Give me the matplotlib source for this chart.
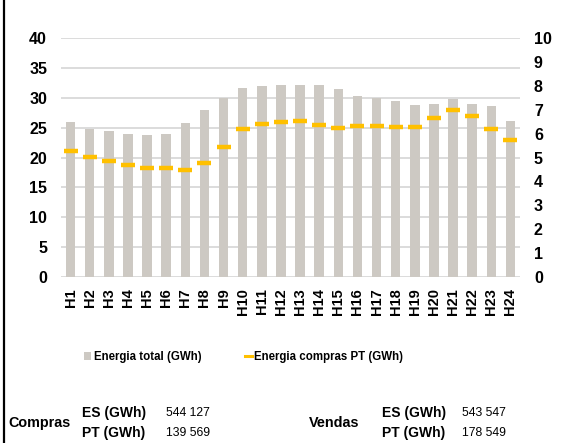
import matplotlib
matplotlib.use("Agg")
import matplotlib.pyplot as plt
from matplotlib.lines import Line2D
from matplotlib.patches import Patch
import numpy as np

plt.rcParams['font.family'] = ['Liberation Sans', 'DejaVu Sans']

hours = [f"H{i}" for i in range(1, 25)]
energia_total = [25.9, 24.7, 24.4, 23.9, 23.7, 24.0, 25.7, 28.0, 29.9, 31.6, 31.9, 32.2,
                 32.2, 32.2, 31.5, 30.3, 29.9, 29.5, 28.8, 28.95, 29.8, 29.0, 28.6, 26.1]
energia_compras_pt = [5.27, 5.03, 4.85, 4.67, 4.56, 4.56, 4.46, 4.76, 5.44, 6.21, 6.39, 6.49,
                      6.53, 6.35, 6.25, 6.32, 6.33, 6.26, 6.28, 6.65, 6.99, 6.72, 6.21, 5.73]
left_ticks = [0, 5, 10, 15, 20, 25, 30, 35, 40]
right_ticks = list(range(0, 11))

compras_es = "544 127"
compras_pt = "139 569"
vendas_es = "543 547"
vendas_pt = "178 549"

bar_color = '#CDC9C3'
line_color = '#FFC000'

fig = plt.figure(figsize=(5.87, 4.43), dpi=100)
ax = fig.add_axes([61/587, 1-277/443, (520-61)/587, (277-38)/443])
x = np.arange(len(hours))
ax.bar(x, energia_total, width=0.5, color=bar_color, zorder=2)
ax.set_xlim(-0.5, len(hours)-0.5)
ax.set_ylim(0, 40)
ax.set_yticks(left_ticks)
ax.grid(axis='y', color='#D9D9D9', linewidth=1.3, zorder=0)
ax.set_axisbelow(True)
for s in ax.spines.values():
    s.set_visible(False)
ax.set_xticks(x)
ax.set_xticklabels(hours, rotation=90, fontweight='bold', fontsize=10.5)
ax.tick_params(axis='x', length=0, pad=8)
ax.tick_params(axis='y', length=0, pad=10, labelsize=11.5)
for lbl in ax.get_yticklabels():
    lbl.set_fontweight('bold')

ax2 = ax.twinx()
ax2.set_ylim(0, 10)
ax2.set_yticks(right_ticks)
ax2.plot(x, energia_compras_pt, linestyle='none', marker='_', markersize=9.5,
         markeredgewidth=3.2, color=line_color, zorder=3)
for s in ax2.spines.values():
    s.set_visible(False)
ax2.tick_params(axis='y', length=0, pad=10, labelsize=11.5)
for lbl in ax2.get_yticklabels():
    lbl.set_fontweight('bold')

handles = [Patch(facecolor=bar_color, edgecolor='none'),
           Line2D([], [], color=line_color, linewidth=2.2)]
fig.legend(handles, ['Energia total (GWh)', 'Energia compras PT (GWh)'],
           loc='center left', bbox_to_anchor=(74/587, 1-357/443), ncol=2, frameon=False,
           prop={'weight': 'bold', 'size': 8.3}, handlelength=0.6, handleheight=0.6,
           handletextpad=0.2, columnspacing=3.8)

fig.add_artist(Line2D([4/587, 4/587], [0, 1], color='black', linewidth=1.6,
                      transform=fig.transFigure))

def fy(py):
    return 1 - py/443

fig.text(8/587, fy(423), 'Compras', fontweight='bold', fontsize=10.4, va='center')
fig.text(82/587, fy(413), 'ES (GWh)', fontweight='bold', fontsize=10, va='center')
fig.text(82/587, fy(433), 'PT (GWh)', fontweight='bold', fontsize=10, va='center')
fig.text(166/587, fy(413), compras_es, fontsize=8.8, va='center')
fig.text(166/587, fy(433), compras_pt, fontsize=8.8, va='center')
fig.text(309/587, fy(423), 'Vendas', fontweight='bold', fontsize=10.4, va='center')
fig.text(382/587, fy(413), 'ES (GWh)', fontweight='bold', fontsize=10, va='center')
fig.text(382/587, fy(433), 'PT (GWh)', fontweight='bold', fontsize=10, va='center')
fig.text(462/587, fy(413), vendas_es, fontsize=8.8, va='center')
fig.text(462/587, fy(433), vendas_pt, fontsize=8.8, va='center')

fig.savefig('out.png', dpi=100)
